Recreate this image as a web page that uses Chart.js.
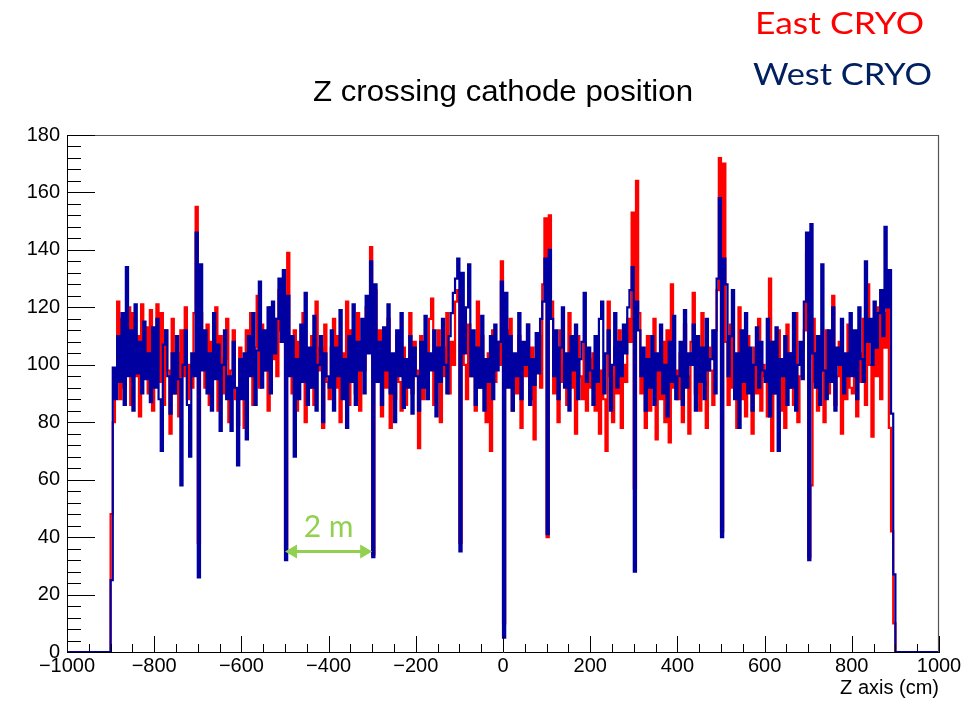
<!DOCTYPE html>
<html>
<head>
<meta charset="utf-8">
<script src="https://cdn.jsdelivr.net/npm/chart.js@4.4.1/dist/chart.umd.min.js"></script>
<style>
  html, body { margin: 0; padding: 0; background: #fff; }
  canvas { display: block; }
</style>
</head>
<body>
<canvas id="chart" width="979" height="701"></canvas>
<script>
// Histogram binning along Z (cm)
const zFirstEdge = -900;
const binWidth = 5;
const zRange = [-1000, 1000];

// West cryostat counts per bin, -900 .. 900 cm (rows of 100 cm)
const westCounts = [
  25, 99, 88, 110, 94, 118, 86, 134, 96, 112, 84, 121, 97, 108, 90, 115, 95, 104, 87, 113,
  92, 116, 88, 70, 107, 112, 96, 83, 104, 90, 110, 95, 58, 100, 112, 86, 68, 104, 96, 146,
  26, 135, 98, 112, 90, 104, 84, 118, 95, 107, 77, 100, 112, 88, 96, 77, 108, 92, 65, 102,
  88, 104, 74, 110, 96, 118, 86, 105, 129, 92, 112, 98, 120, 90, 122, 104, 116, 130, 108, 133,
  32, 124, 96, 110, 68, 102, 88, 114, 94, 125, 86, 106, 92, 117, 84, 100, 110, 80, 104, 96,
  92, 112, 84, 106, 96, 119, 88, 102, 78, 110, 94, 121, 86, 108, 98, 116, 90, 124, 104, 136,
  33, 128, 94, 108, 86, 113, 98, 121, 90, 104, 80, 112, 96, 118, 85, 102, 92, 110, 83, 106,
  96, 84, 108, 92, 117, 88, 104, 98, 112, 82, 106, 94, 116, 100, 90, 110, 118, 125, 130, 137,
  35, 132, 104, 120, 135, 96, 112, 86, 106, 92, 117, 84, 102, 94, 110, 88, 114, 98, 108, 129,
  5, 125, 92, 110, 84, 104, 96, 118, 88, 108, 100, 114, 86, 102, 93, 111, 97, 116, 122, 137,
  41, 140, 116, 96, 112, 88, 106, 120, 92, 104, 84, 110, 98, 114, 88, 102, 108, 125, 94, 106,
  98, 86, 110, 94, 116, 122, 90, 104, 112, 84, 100, 118, 92, 108, 96, 114, 104, 120, 126, 134,
  28, 122, 112, 96, 106, 84, 102, 92, 110, 86, 104, 98, 114, 90, 100, 82, 108, 94, 117, 88,
  96, 108, 86, 119, 92, 104, 100, 114, 84, 110, 94, 106, 88, 116, 98, 102, 112, 90, 130, 158,
  40, 137, 128, 96, 110, 126, 88, 104, 78, 112, 94, 118, 90, 106, 84, 100, 113, 92, 108, 98,
  94, 116, 82, 108, 90, 113, 70, 102, 96, 110, 86, 104, 92, 118, 84, 100, 108, 95, 122, 146,
  32, 149, 104, 92, 110, 86, 135, 98, 88, 112, 94, 120, 84, 106, 100, 116, 90, 104, 96, 118,
  96, 112, 88, 120, 102, 94, 136, 108, 116, 100, 122, 106, 118, 126, 110, 148, 120, 133, 83, 27
];

// East cryostat counts per bin, -900 .. 900 cm (rows of 100 cm)
const eastCounts = [
  48, 80, 94, 122, 88, 116, 92, 104, 120, 86, 118, 96, 110, 82, 121, 100, 113, 90, 119, 84,
  108, 121, 94, 118, 86, 112, 98, 76, 116, 90, 104, 82, 112, 96, 120, 88, 100, 92, 118, 155,
  38, 118, 104, 92, 114, 86, 108, 96, 120, 84, 110, 90, 102, 116, 80, 98, 112, 88, 79, 106,
  94, 78, 112, 100, 118, 86, 106, 124, 92, 114, 98, 110, 84, 120, 102, 116, 96, 126, 112, 122,
  36, 139, 102, 90, 112, 84, 108, 96, 118, 80, 104, 92, 110, 86, 122, 98, 106, 78, 114, 94,
  88, 106, 116, 92, 110, 80, 104, 96, 122, 86, 112, 100, 90, 118, 84, 108, 98, 120, 112, 141,
  34, 126, 96, 112, 82, 104, 92, 116, 78, 100, 88, 110, 94, 84, 106, 86, 102, 118, 90, 108,
  98, 71, 110, 88, 104, 94, 116, 123, 86, 102, 112, 80, 106, 96, 118, 90, 108, 100, 122, 126,
  38, 120, 100, 88, 114, 96, 106, 84, 122, 92, 110, 98, 80, 104, 70, 112, 94, 108, 100, 136,
  10, 112, 94, 116, 84, 100, 90, 110, 78, 104, 96, 114, 88, 106, 74, 98, 110, 92, 128, 151,
  40, 152, 122, 90, 106, 80, 112, 94, 100, 86, 118, 92, 104, 76, 110, 96, 88, 108, 84, 102,
  92, 104, 84, 110, 76, 98, 88, 70, 122, 96, 80, 106, 90, 112, 78, 100, 94, 116, 108, 153,
  57, 164, 118, 90, 102, 78, 110, 84, 96, 116, 74, 100, 88, 108, 80, 112, 73, 128, 92, 98,
  88, 104, 80, 114, 96, 76, 108, 125, 90, 100, 84, 118, 94, 78, 106, 98, 86, 112, 126, 172,
  42, 170, 108, 86, 114, 92, 100, 78, 120, 88, 104, 82, 110, 96, 76, 106, 90, 116, 84, 100,
  96, 82, 130, 70, 108, 90, 112, 84, 100, 78, 114, 92, 104, 86, 118, 80, 96, 106, 112, 139,
  33, 58, 116, 94, 84, 106, 98, 80, 112, 90, 102, 124, 86, 96, 108, 76, 100, 88, 114, 92,
  90, 110, 82, 104, 94, 116, 86, 128, 100, 75, 112, 96, 120, 88, 118, 106, 130, 78, 42, 10
];

// Axis ticks
const yTickStep = 20, yMinorStep = 4, yMax = 180;
const xTickStep = 200, xMinorStep = 50;

// Left bin edges carry each bin's content; the histogram drops to zero outside the filled range
function histogramSteps(counts) {
  const pts = [{ x: zRange[0], y: 0 }];
  counts.forEach((c, i) => pts.push({ x: zFirstEdge + i * binWidth, y: c }));
  pts.push({ x: zFirstEdge + counts.length * binWidth, y: 0 });
  pts.push({ x: zRange[1], y: 0 });
  return pts;
}

const SANS = '"Liberation Sans", Arial, Helvetica, sans-serif';
const HUMANIST = 'Lato, "Open Sans", sans-serif';

function fitText(ctx, text, font, x, baseline, width, color) {
  ctx.save();
  ctx.font = font;
  ctx.fillStyle = color;
  ctx.textBaseline = 'alphabetic';
  ctx.textAlign = 'left';
  const w = ctx.measureText(text).width;
  ctx.translate(x, baseline);
  ctx.scale(width / w, 1);
  ctx.fillText(text, 0, 0);
  ctx.restore();
}

const rootFrame = {
  id: 'rootFrame',
  afterDatasetsDraw(chart) {
    const { ctx, chartArea: a, scales: { x, y } } = chart;
    ctx.save();
    // upper and right frame edges
    ctx.strokeStyle = '#555';
    ctx.lineWidth = 1.2;
    ctx.beginPath();
    ctx.moveTo(a.left, a.top + 0.5);
    ctx.lineTo(a.right - 0.5, a.top + 0.5);
    ctx.lineTo(a.right - 0.5, a.bottom);
    ctx.stroke();

    // inward tick marks
    ctx.strokeStyle = '#000';
    ctx.lineWidth = 1;
    ctx.beginPath();
    for (let v = 0; v <= yMax; v += yMinorStep) {
      const py = Math.round(y.getPixelForValue(v)) + 0.5;
      const len = v % yTickStep === 0 ? 28 : 14;
      ctx.moveTo(a.left, py);
      ctx.lineTo(a.left + len, py);
    }
    for (let v = zRange[0]; v <= zRange[1]; v += xMinorStep) {
      const px = Math.round(x.getPixelForValue(v)) + 0.5;
      const len = v % xTickStep === 0 ? 16 : 8;
      ctx.moveTo(px, a.bottom);
      ctx.lineTo(px, a.bottom - len);
    }
    ctx.stroke();
    ctx.restore();
  },
  afterDraw(chart) {
    const { ctx, scales: { x, y } } = chart;

    // histogram title
    fitText(ctx, 'Z crossing cathode position', '29px ' + SANS, 313, 101, 380, '#000');

    // cryostat labels
    fitText(ctx, 'East CRYO', '31px ' + HUMANIST, 755, 34, 169, '#ff0000');
    fitText(ctx, 'West CRYO', '31px ' + HUMANIST, 753, 85, 179, '#002060');

    // x axis title
    ctx.save();
    ctx.font = '20px ' + SANS;
    ctx.fillStyle = '#000';
    ctx.textAlign = 'right';
    ctx.textBaseline = 'alphabetic';
    ctx.fillText('Z axis (cm)', 939, 694);
    ctx.restore();

    // 2 m spacing marker between -500 and -300 cm
    const green = '#92d050';
    const x0 = x.getPixelForValue(-500), x1 = x.getPixelForValue(-300);
    const ya = y.getPixelForValue(35);
    ctx.save();
    ctx.strokeStyle = green;
    ctx.fillStyle = green;
    ctx.lineWidth = 3;
    ctx.beginPath();
    ctx.moveTo(x0 + 8, ya);
    ctx.lineTo(x1 - 8, ya);
    ctx.stroke();
    const head = (tip, dir) => {
      ctx.beginPath();
      ctx.moveTo(tip, ya);
      ctx.lineTo(tip - dir * 12, ya - 7);
      ctx.lineTo(tip - dir * 12, ya + 7);
      ctx.closePath();
      ctx.fill();
    };
    head(x0, -1);
    head(x1, 1);
    ctx.font = '30px ' + HUMANIST;
    ctx.textAlign = 'center';
    ctx.textBaseline = 'alphabetic';
    ctx.fillText('2 m', (x0 + x1) / 2, 537);
    ctx.restore();
  }
};

const minusLabel = v => (v < 0 ? '\u2212' + Math.abs(v) : String(v));

new Chart(document.getElementById('chart'), {
  type: 'line',
  data: {
    datasets: [
      {
        label: 'West CRYO',
        data: histogramSteps(westCounts),
        borderColor: '#0000a0',
        borderWidth: 2.2,
        stepped: true,
        pointRadius: 0,
        fill: false,
        order: 0
      },
      {
        label: 'East CRYO',
        data: histogramSteps(eastCounts),
        borderColor: '#ff0000',
        borderWidth: 2.2,
        stepped: true,
        pointRadius: 0,
        fill: false,
        order: 1
      }
    ]
  },
  options: {
    responsive: false,
    animation: false,
    devicePixelRatio: 1,
    events: [],
    layout: { padding: { left: 0, top: 135, right: 40, bottom: 0 } },
    plugins: { legend: { display: false }, tooltip: { enabled: false }, title: { display: false } },
    scales: {
      x: {
        type: 'linear',
        min: zRange[0],
        max: zRange[1],
        grid: { display: false, drawTicks: false, tickLength: 0 },
        border: { display: true, color: '#000', width: 1 },
        ticks: {
          stepSize: xTickStep,
          autoSkip: false,
          maxRotation: 0,
          padding: 2,
          color: '#000',
          font: { family: SANS, size: 20 },
          callback: minusLabel
        },
        afterFit(scale) { scale.height = 49; }
      },
      y: {
        min: 0,
        max: yMax,
        grid: { display: false, drawTicks: false, tickLength: 0 },
        border: { display: true, color: '#000', width: 1 },
        ticks: {
          stepSize: yTickStep,
          padding: 7,
          color: '#000',
          font: { family: SANS, size: 20 },
          callback: minusLabel
        },
        afterFit(scale) { scale.width = 67; }
      }
    }
  },
  plugins: [rootFrame]
});
</script>
</body>
</html>
